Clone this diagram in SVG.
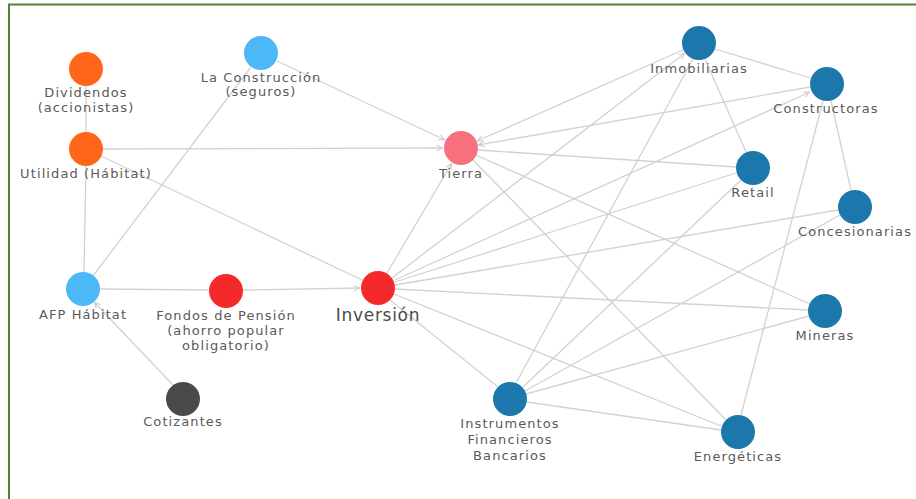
<svg xmlns="http://www.w3.org/2000/svg" width="916" height="499" viewBox="0 0 916 499">
  <style>
    .edge { stroke: #d2d2d2; stroke-width: 1.3; fill: none; }
    .arr { marker-end: url(#arrow); }
    .lbl { font-family: "DejaVu Sans", "Open Sans", sans-serif; font-size: 13px; letter-spacing: 1.1px; fill: #5a5a5a; text-anchor: middle; }
    .big { font-size: 17px; letter-spacing: 0.7px; fill: #4a4a4a; }
    .orange { fill: #ff661a; }
    .sky { fill: #4cb8f7; }
    .red { fill: #f42a2a; }
    .pink { fill: #f7707d; }
    .dark { fill: #4a4a4a; }
    .blue { fill: #1b77ac; }
  </style>
  <defs>
    <marker id="arrow" viewBox="0 0 10 10" refX="10" refY="5" markerWidth="7" markerHeight="7" markerUnits="userSpaceOnUse" orient="auto">
      <path d="M1,1 L9,5 L1,9" fill="none" stroke="#c8c8c8" stroke-width="1.4"/>
    </marker>
  </defs>

  <rect x="0" y="0" width="916" height="499" fill="#ffffff"/>
  <!-- frame -->
  <path d="M9,499 L9,4.5 L916,4.5" fill="none" stroke="#548235" stroke-width="2"/>

  <g id="connectors">
    <line class="edge" x1="86" y1="86" x2="86" y2="132"/>
    <line class="edge arr" x1="103" y1="149" x2="443" y2="148"/>
    <line class="edge" x1="101" y1="156" x2="362" y2="280"/>
    <line class="edge" x1="86" y1="166" x2="84" y2="272"/>
    <line class="edge arr" x1="277" y1="61" x2="445" y2="140"/>
    <line class="edge" x1="251" y1="67" x2="93" y2="276"/>
    <line class="edge" x1="100" y1="289" x2="208" y2="290"/>
    <line class="edge arr" x1="243" y1="290" x2="360" y2="288"/>
    <line class="edge arr" x1="173" y1="385" x2="94" y2="302"/>
    <line class="edge arr" x1="387" y1="273" x2="452" y2="163"/>

    <line class="edge arr" x1="392" y1="278" x2="685" y2="53"/>
    <line class="edge arr" x1="395" y1="280" x2="810" y2="92"/>
    <line class="edge" x1="395" y1="282" x2="736" y2="173"/>
    <line class="edge" x1="395" y1="285" x2="838" y2="210"/>
    <line class="edge" x1="395" y1="289" x2="808" y2="310"/>
    <line class="edge" x1="394" y1="294" x2="721" y2="426"/>
    <line class="edge" x1="390" y1="300" x2="498" y2="387"/>

    <line class="edge arr" x1="683" y1="50" x2="477" y2="141"/>
    <line class="edge arr" x1="810" y1="87" x2="478" y2="145"/>
    <line class="edge" x1="478" y1="150" x2="736" y2="167"/>
    <line class="edge" x1="476" y1="155" x2="810" y2="304"/>
    <line class="edge" x1="473" y1="160" x2="726" y2="420"/>

    <line class="edge" x1="715" y1="49" x2="811" y2="78"/>
    <line class="edge" x1="705" y1="59" x2="746" y2="152"/>
    <line class="edge" x1="693" y1="59" x2="516" y2="383"/>
    <line class="edge" x1="831" y1="101" x2="851" y2="190"/>
    <line class="edge" x1="823" y1="101" x2="741" y2="415"/>

    <line class="edge" x1="523" y1="387" x2="741" y2="180"/>
    <line class="edge" x1="525" y1="391" x2="840" y2="215"/>
    <line class="edge" x1="526" y1="394" x2="809" y2="316"/>
    <line class="edge" x1="527" y1="402" x2="721" y2="430"/>
  </g>

  <g id="dividendos">
    <circle class="orange" cx="86" cy="69" r="17"/>
    <text class="lbl" x="86" y="97">Dividendos</text>
    <text class="lbl" x="86" y="112">(accionistas)</text>
  </g>
  <g id="utilidad">
    <circle class="orange" cx="86" cy="149" r="17"/>
    <text class="lbl" x="86" y="178">Utilidad (Hábitat)</text>
  </g>
  <g id="la-construccion">
    <circle class="sky" cx="261" cy="53" r="17"/>
    <text class="lbl" x="261" y="82">La Construcción</text>
    <text class="lbl" x="261" y="96">(seguros)</text>
  </g>
  <g id="afp-habitat">
    <circle class="sky" cx="83" cy="289" r="17"/>
    <text class="lbl" x="83" y="319">AFP Hábitat</text>
  </g>
  <g id="fondos">
    <circle class="red" cx="226" cy="291" r="17"/>
    <text class="lbl" x="226" y="320">Fondos de Pensión</text>
    <text class="lbl" x="226" y="335">(ahorro popular</text>
    <text class="lbl" x="226" y="350">obligatorio)</text>
  </g>
  <g id="cotizantes">
    <circle class="dark" cx="183" cy="399" r="17"/>
    <text class="lbl" x="183" y="426">Cotizantes</text>
  </g>
  <g id="tierra">
    <circle class="pink" cx="461" cy="148" r="17"/>
    <text class="lbl" x="461" y="178">Tierra</text>
  </g>
  <g id="inversion">
    <circle class="red" cx="378" cy="288" r="17"/>
    <text class="lbl big" x="378" y="321">Inversión</text>
  </g>
  <g id="inmobiliarias">
    <circle class="blue" cx="699" cy="43" r="17"/>
    <text class="lbl" x="699" y="73">Inmobiliarias</text>
  </g>
  <g id="constructoras">
    <circle class="blue" cx="827" cy="84" r="17"/>
    <text class="lbl" x="826" y="113">Constructoras</text>
  </g>
  <g id="retail">
    <circle class="blue" cx="753" cy="168" r="17"/>
    <text class="lbl" x="753" y="197">Retail</text>
  </g>
  <g id="concesionarias">
    <circle class="blue" cx="855" cy="207" r="17"/>
    <text class="lbl" x="855" y="236">Concesionarias</text>
  </g>
  <g id="mineras">
    <circle class="blue" cx="825" cy="311" r="17"/>
    <text class="lbl" x="825" y="340">Mineras</text>
  </g>
  <g id="instrumentos">
    <circle class="blue" cx="510" cy="399" r="17"/>
    <text class="lbl" x="510" y="428">Instrumentos</text>
    <text class="lbl" x="510" y="444">Financieros</text>
    <text class="lbl" x="510" y="460">Bancarios</text>
  </g>
  <g id="energeticas">
    <circle class="blue" cx="738" cy="432" r="17"/>
    <text class="lbl" x="738" y="461">Energéticas</text>
  </g>
</svg>
